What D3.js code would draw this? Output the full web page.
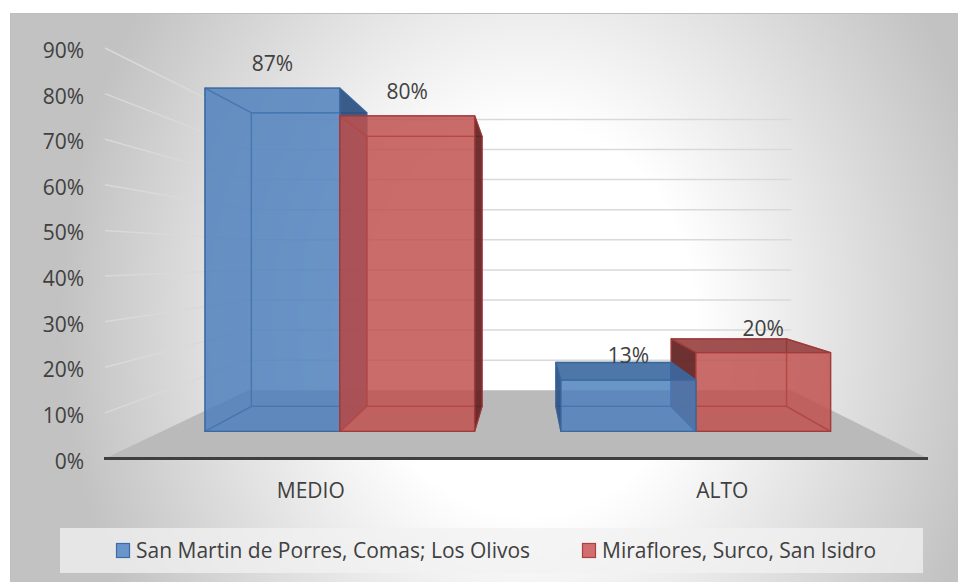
<!DOCTYPE html>
<html><head><meta charset="utf-8">
<script src="https://cdn.jsdelivr.net/npm/d3@7"></script>
<style>html,body{margin:0;padding:0;background:#fff;overflow:hidden;} svg{display:block;}</style>
</head><body>
<script>
// ---- data ----
const categories = ["MEDIO", "ALTO"];
const seriesNames = ["San Martin de Porres, Comas; Los Olivos", "Miraflores, Surco, San Isidro"];
const sanMartinValues = [0.87, 0.13];
const mirafloresValues = [0.80, 0.20];
const yTickValues = [0, 0.1, 0.2, 0.3, 0.4, 0.5, 0.6, 0.7, 0.8, 0.9];
const yTickLabels = ["0%", "10%", "20%", "30%", "40%", "50%", "60%", "70%", "80%", "90%"];
const seriesValues = [sanMartinValues, mirafloresValues];

// ---- layout / style ----
const W = 958, H = 582;
const FONT = "'Open Sans', sans-serif";
const TEXT = "#404040";
const vp = [526, 258];          // vanishing point
const sWall = 0.66;             // depth scale of back wall
const sBarF = 0.865, sBarB = 0.74; // depth scales of bar front/back faces
const styles = [
  {base: "#4F81BD", edge: "#3A679E", side: "#2B4E7F", top: "#37639A", swatch: "#6A95CB", swEdge: "#3E6BA4"},
  {base: "#C0504D", edge: "#A03A38", side: "#5B2020", top: "#8D3939", swatch: "#D06F6D", swEdge: "#A8413F"}
];

const svg = d3.select("body").append("svg").attr("width", W).attr("height", H);
const defs = svg.append("defs");
const rg = defs.append("radialGradient").attr("id", "bg")
  .attr("gradientUnits", "userSpaceOnUse")
  .attr("cx", 0).attr("cy", 0).attr("r", 1)
  .attr("gradientTransform", "translate(530,320) scale(470,560)");
rg.append("stop").attr("offset", 0).attr("stop-color", "#ffffff");
rg.append("stop").attr("offset", 0.35).attr("stop-color", "#ffffff");
rg.append("stop").attr("offset", 1).attr("stop-color", "#c2c2c2");

svg.append("rect").attr("x", 10.5).attr("y", 13.5).attr("width", 960).attr("height", 600)
  .attr("fill", "url(#bg)").attr("stroke", "#bfbfbf").attr("stroke-width", 1);

// scales (front plane)
const y = d3.scaleLinear().domain([0, 0.9]).range([458.5, 48]);
const x0 = d3.scaleBand().domain(categories).range([105, 928]).paddingInner(0.2425).paddingOuter(0.12125);
const x1 = d3.scaleBand().domain(d3.range(seriesNames.length)).range([0, x0.bandwidth()]);
const X_LEFT = x0.range()[0], X_RIGHT = x0.range()[1];

const P = (X, Y, s) => [vp[0] + (X - vp[0]) * s, vp[1] + (Y - vp[1]) * s];
const poly = pts => "M" + pts.map(p => p[0].toFixed(2) + "," + p[1].toFixed(2)).join("L") + "Z";

// floor
const g = svg.append("g");
g.append("path").attr("d", poly([P(X_LEFT, y(0), 1), P(X_RIGHT, y(0), 1), P(X_RIGHT, y(0), sWall), P(X_LEFT, y(0), sWall)]))
  .attr("fill", "#bababa");

// gridlines (left wall + back wall)
yTickValues.filter(v => v > 0).forEach(v => {
  const a = P(X_LEFT, y(v), 1), b = P(X_LEFT, y(v), sWall), c = P(X_RIGHT, y(v), sWall);
  g.append("path").attr("d", `M${a[0]},${a[1]}L${b[0]},${b[1]}L${c[0]},${c[1]}`)
    .attr("fill", "none").attr("stroke", "#d9d9d9").attr("stroke-width", 1.5);
});

// front edge of floor (category axis line)
g.append("line").attr("x1", X_LEFT - 1).attr("x2", X_RIGHT).attr("y1", y(0)).attr("y2", y(0))
  .attr("stroke", "#3f3f3f").attr("stroke-width", 3);

// bars
const bars = [];
categories.forEach((c, ci) => {
  seriesValues.forEach((vals, si) => {
    const X0 = x0(c) + x1(si), X1 = X0 + x1.bandwidth();
    bars.push({ci, si, X0, X1, v: vals[ci]});
  });
});
bars.sort((a, b) => Math.abs((b.X0 + b.X1) / 2 - vp[0]) - Math.abs((a.X0 + a.X1) / 2 - vp[0]));

const barG = svg.append("g");
bars.forEach(b => {
  const st = styles[b.si];
  const Yt = y(b.v), Yb = y(0);
  const f = s => ({
    lt: P(b.X0, Yt, s), rt: P(b.X1, Yt, s), rb: P(b.X1, Yb, s), lb: P(b.X0, Yb, s)
  });
  const F = f(sBarF), B = f(sBarB);
  const leftVis = b.X0 > vp[0], rightVis = b.X1 < vp[0], topVis = Yt > vp[1];
  const faces = {
    back: [B.lt, B.rt, B.rb, B.lb],
    bottom: [F.lb, F.rb, B.rb, B.lb],
    left: [F.lt, B.lt, B.lb, F.lb],
    right: [F.rt, B.rt, B.rb, F.rb],
    top: [F.lt, F.rt, B.rt, B.lt],
    front: [F.lt, F.rt, F.rb, F.lb]
  };
  const bg = barG.append("g");
  const draw = (pts, fill, op) => bg.append("path").attr("d", poly(pts))
    .attr("fill", fill).attr("fill-opacity", op)
    .attr("stroke", st.edge).attr("stroke-width", 1.3).attr("stroke-opacity", 0.85)
    .attr("stroke-linejoin", "round");
  // hidden faces
  draw(faces.back, st.base, 0.6);
  draw(faces.bottom, st.base, 0.6);
  if (!leftVis) draw(faces.left, st.base, 0.6);
  if (!rightVis) draw(faces.right, st.base, 0.6);
  if (!topVis) draw(faces.top, st.base, 0.6);
  // visible faces
  if (leftVis) draw(faces.left, st.side, 0.85);
  if (rightVis) draw(faces.right, st.side, 0.85);
  if (topVis) draw(faces.top, st.top, 0.75);
  draw(faces.front, st.base, 0.6);
  b.labelX = (F.lt[0] + F.rt[0]) / 2;
  b.labelY = F.lt[1] - 17;
});

// data labels
const fmt = d3.format(".0%");
svg.append("g").selectAll("text").data(bars).join("text")
  .attr("x", d => d.labelX).attr("y", d => d.labelY)
  .attr("text-anchor", "middle").attr("font-family", FONT).attr("font-size", 21).attr("fill", TEXT)
  .text(d => fmt(d.v));

// value axis labels
svg.append("g").selectAll("text").data(yTickValues).join("text")
  .attr("x", 84).attr("y", d => y(d) + 10)
  .attr("text-anchor", "end").attr("font-family", FONT).attr("font-size", 21).attr("fill", TEXT)
  .text((d, i) => yTickLabels[i]);

// category labels
svg.append("g").selectAll("text").data(categories).join("text")
  .attr("x", d => x0(d) + x0.bandwidth() / 2).attr("y", 498)
  .attr("text-anchor", "middle").attr("font-family", FONT).attr("font-size", 21).attr("fill", TEXT)
  .text(d => d);

// legend
const lg = svg.append("g");
lg.append("rect").attr("x", 60).attr("y", 528).attr("width", 863).attr("height", 45)
  .attr("fill", "#f2f2f2").attr("fill-opacity", 0.75);
const legendX = [116, 582];
seriesNames.forEach((n, i) => {
  lg.append("rect").attr("x", legendX[i] + 0.5).attr("y", 543.5).attr("width", 13).attr("height", 14)
    .attr("fill", styles[i].swatch).attr("stroke", styles[i].swEdge).attr("stroke-width", 1.2);
  lg.append("text").attr("x", legendX[i] + 20).attr("y", 557.5)
    .attr("font-family", FONT).attr("font-size", 21).attr("fill", TEXT).text(n);
});
</script>
</body></html>
